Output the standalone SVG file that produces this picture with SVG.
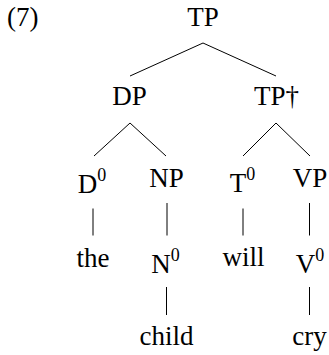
<svg xmlns="http://www.w3.org/2000/svg" width="329" height="355" viewBox="0 0 329 355">
<style>
text{fill:#000;text-anchor:middle}
#edges line{stroke:#000;stroke-width:1}
</style>
<rect width="329" height="355" fill="#fff"/>
<g font-family="Liberation Serif, Times New Roman, serif" font-size="27">
<text x="7" y="26" style="text-anchor:start">(7)</text>
<g id="edges">
<line x1="203" y1="43" x2="130" y2="76"/>
<line x1="203" y1="43" x2="276" y2="76"/>
<line x1="130" y1="123" x2="94" y2="156"/>
<line x1="130" y1="123" x2="166" y2="156"/>
<line x1="276" y1="123" x2="243" y2="156"/>
<line x1="276" y1="123" x2="310" y2="156"/>
<line x1="93" y1="208.5" x2="93" y2="235.5"/>
<line x1="167" y1="203" x2="167" y2="235.5"/>
<line x1="243" y1="208.5" x2="243" y2="235.5"/>
<line x1="309.5" y1="203" x2="309.5" y2="235.5"/>
<line x1="166.5" y1="287" x2="166.5" y2="315"/>
<line x1="309.5" y1="287" x2="309.5" y2="315"/>
</g>
<g id="n-TP"><text x="203" y="26">TP</text></g>
<g id="n-DP"><text x="129.5" y="105">DP</text></g>
<g id="n-TPd"><text x="276.5" y="105">TP†</text></g>
<g id="n-D0"><text x="92" y="192.5">D<tspan font-size="18" dy="-12">0</tspan></text></g>
<g id="n-NP"><text x="166.5" y="186.7">NP</text></g>
<g id="n-T0"><text x="242.5" y="192">T<tspan font-size="18" dy="-12">0</tspan></text></g>
<g id="n-VP"><text x="310" y="186.7">VP</text></g>
<g id="n-the"><text x="93" y="266.5">the</text></g>
<g id="n-N0"><text x="165.5" y="272.5">N<tspan font-size="18" dy="-12">0</tspan></text></g>
<g id="n-will"><text x="243.5" y="266">will</text></g>
<g id="n-V0"><text x="310" y="272.5">V<tspan font-size="18" dy="-12">0</tspan></text></g>
<g id="n-child"><text x="166.5" y="345">child</text></g>
<g id="n-cry"><text x="309.5" y="345">cry</text></g>
</g>
</svg>
